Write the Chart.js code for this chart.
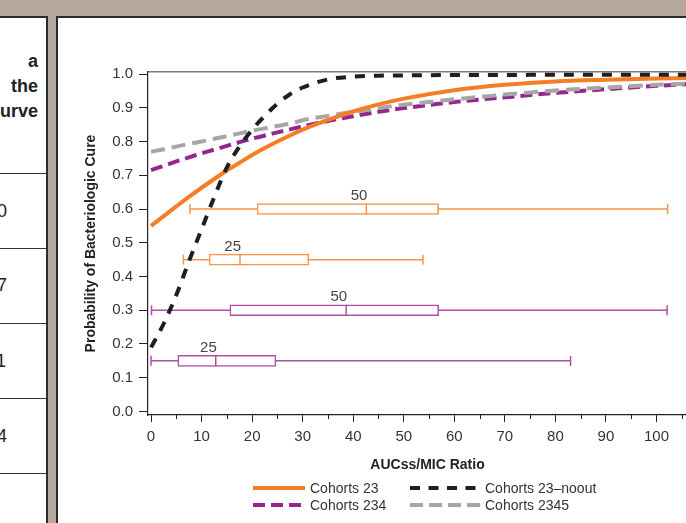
<!DOCTYPE html>
<html>
<head>
<meta charset="utf-8">
<script src="https://cdn.jsdelivr.net/npm/chart.js@4.4.1/dist/chart.umd.min.js"></script>
<style>
html, body { margin: 0; padding: 0; width: 686px; height: 523px; overflow: hidden; background: #b4a79e; }
body { position: relative; font-family: 'Liberation Sans', Arial, sans-serif; }
#side { position: absolute; left: 0; top: 16px; width: 46px; height: 520px; background: #fff;
        border-top: 2px solid #2b2b2b; border-right: 2px solid #2b2b2b; overflow: hidden; }
#side .head { position: absolute; right: 8px; top: 31px; text-align: right; font: bold 18px 'Liberation Sans', Arial, sans-serif;
              line-height: 25px; color: #222; }
#side .rule { position: absolute; left: 0; width: 100%; border-top: 1.5px solid #333; }
#side .num { position: absolute; font: 18px 'Liberation Sans', Arial, sans-serif; line-height: 20px; color: #222; }
#panel { position: absolute; left: 56px; top: 16px; width: 680px; height: 520px; background: #fff;
         border-top: 2px solid #2b2b2b; border-left: 2px solid #2b2b2b; overflow: hidden; }
#chart { position: absolute; left: 0; top: 0; }
#legend { position: absolute; left: 195px; top: 461px; display: grid; grid-template-columns: 157px 220px; }
#legend .item { display: flex; align-items: center; height: 17px; font-size: 14px; color: #333; white-space: nowrap; }
#legend svg { margin-right: 5px; }
</style>
</head>
<body>
<div id="side">
  <div class="head">a<br>the<br>urve</div>
  <div class="rule" style="top:155px"></div>
  <div class="num" style="top:183px; left:-3px">0</div>
  <div class="rule" style="top:230px"></div>
  <div class="num" style="top:257px; left:-3px">7</div>
  <div class="rule" style="top:305px"></div>
  <div class="num" style="top:333px; left:-4px">1</div>
  <div class="rule" style="top:380px"></div>
  <div class="num" style="top:408px; left:-3px">4</div>
  <div class="rule" style="top:455px"></div>
</div>
<div id="panel">
  <canvas id="chart" width="667" height="462"></canvas>
  <div id="legend"></div>
</div>
<script>
const FONT = "'Liberation Sans', Arial, sans-serif";

const aucMic = [0, 2.5, 5, 7.5, 10, 12.5, 15, 17.5, 20, 22.5, 25, 27.5, 30, 35, 40, 45, 50, 60, 70, 80, 90, 100, 110];

// Wahrscheinlichkeit der bakteriologischen Heilung je Kohorte
const cohorts23      = [0.550, 0.579, 0.608, 0.636, 0.663, 0.689, 0.714, 0.737, 0.760, 0.781, 0.800, 0.818, 0.835, 0.864, 0.889, 0.910, 0.927, 0.952, 0.968, 0.978, 0.983, 0.987, 0.989];
const cohorts23noout = [0.190, 0.260, 0.345, 0.445, 0.540, 0.635, 0.723, 0.785, 0.835, 0.876, 0.912, 0.940, 0.960, 0.984, 0.992, 0.995, 0.996, 0.997, 0.997, 0.998, 0.998, 0.998, 0.998];
const cohorts234     = [0.715, 0.728, 0.741, 0.753, 0.765, 0.776, 0.787, 0.798, 0.808, 0.818, 0.827, 0.836, 0.845, 0.861, 0.875, 0.888, 0.899, 0.917, 0.931, 0.944, 0.955, 0.965, 0.973];
const cohorts2345    = [0.770, 0.777, 0.785, 0.793, 0.800, 0.808, 0.816, 0.824, 0.832, 0.839, 0.846, 0.853, 0.863, 0.876, 0.888, 0.899, 0.909, 0.925, 0.939, 0.951, 0.960, 0.968, 0.974];

const seriesNames = ['Cohorts 23', 'Cohorts 23\u2013noout', 'Cohorts 234', 'Cohorts 2345'];

// Boxplots (Verteilung AUCss/MIC)
const boxLabels  = ['50', '25', '50', '25'];
const boxY       = [0.60, 0.45, 0.30, 0.15];
const boxLow     = [7.7, 6.4, 0.1, 0.0];
const boxQ1      = [21.0, 11.5, 15.6, 5.3];
const boxMedian  = [42.6, 17.6, 38.6, 12.8];
const boxQ3      = [56.9, 31.2, 56.9, 24.7];
const boxHigh    = [102.2, 53.8, 102.1, 83.0];
const boxColors  = ['#f3954a', '#f3954a', '#b04fa5', '#b04fa5'];

const yTicks = { min: -0.0104, max: 1.006, step: 0.1 };
const xTicks = { min: -0.6, max: 110, step: 10 };

// Zeichenreihenfolge: kleinere Zahl liegt oben
const styles = [
  { color: '#f47d26', dash: [], legendDash: '', legendWidth: 52, order: 1 },
  { color: '#1f1f1f', dash: [10, 9], legendDash: '10 8.5', legendWidth: 70, order: 0 },
  { color: '#93278f', dash: [12, 6], legendDash: '12 6', legendWidth: 52, order: 3 },
  { color: '#a8a5a4', dash: [14, 7], legendDash: '13 6', legendWidth: 70, order: 2 }
];
const curves = [cohorts23, cohorts23noout, cohorts234, cohorts2345];

const toPoints = arr => aucMic.map((x, i) => ({ x: x, y: arr[i] }));

const datasets = [];
curves.forEach((c, i) => {
  datasets.push({
    type: 'scatter',
    label: seriesNames[i],
    data: toPoints(c),
    showLine: true,
    borderColor: styles[i].color,
    borderWidth: 4,
    borderDash: styles[i].dash,
    cubicInterpolationMode: 'monotone',
    pointRadius: 0,
    order: styles[i].order
  });
});

// Median-Striche
datasets.push({
  type: 'scatter',
  data: boxY.map((y, i) => ({ x: boxMedian[i], y: y })),
  pointStyle: 'line',
  rotation: 90,
  pointRadius: 5.5,
  pointBorderWidth: 1.5,
  pointBorderColor: boxColors,
  order: 4
});

// Boxen (Q1..Q3)
datasets.push({
  type: 'bar',
  indexAxis: 'y',
  data: boxY.map((y, i) => ({ x: [boxQ1[i], boxQ3[i]], y: y })),
  backgroundColor: '#ffffff',
  borderColor: boxColors,
  borderWidth: 1.5,
  borderSkipped: false,
  barThickness: 11,
  order: 5
});

// Whisker
boxY.forEach((y, i) => {
  datasets.push({
    type: 'scatter',
    data: [{ x: boxLow[i], y: y }, { x: boxHigh[i], y: y }],
    showLine: true,
    borderColor: boxColors[i],
    borderWidth: 1.5,
    pointStyle: 'line',
    rotation: 90,
    pointRadius: 5,
    pointBorderWidth: 1.5,
    pointBorderColor: boxColors[i],
    order: 6
  });
});

const boxLabelPlugin = {
  id: 'boxLabels',
  afterDatasetsDraw(chart) {
    const { ctx, scales: { x, y } } = chart;
    ctx.save();
    ctx.font = '15px ' + FONT;
    ctx.fillStyle = '#444';
    ctx.textAlign = 'right';
    ctx.textBaseline = 'alphabetic';
    boxLabels.forEach((t, i) => {
      ctx.fillText(t, x.getPixelForValue(boxMedian[i]) + 1, y.getPixelForValue(boxY[i]) - 9);
    });
    ctx.restore();
  }
};

// kurze Zwischenstriche auf der x-Achse
const minorTickPlugin = {
  id: 'minorTicks',
  afterDraw(chart) {
    const { ctx } = chart;
    const xs = chart.scales.x;
    ctx.save();
    ctx.strokeStyle = '#222';
    ctx.lineWidth = 1;
    ctx.beginPath();
    for (let i = 0; i < xs.ticks.length - 1; i++) {
      const v = (xs.ticks[i].value + xs.ticks[i + 1].value) / 2;
      const px = Math.round(xs.getPixelForValue(v)) + 0.5;
      ctx.moveTo(px, xs.top);
      ctx.lineTo(px, xs.top + 4);
    }
    ctx.stroke();
    ctx.restore();
  }
};

new Chart(document.getElementById('chart'), {
  type: 'scatter',
  data: { datasets: datasets },
  plugins: [boxLabelPlugin, minorTickPlugin],
  options: {
    responsive: false,
    animation: false,
    devicePixelRatio: 1,
    events: [],
    layout: { autoPadding: false, padding: { top: 54, left: 0, right: 12.5, bottom: 0 } },
    plugins: { legend: { display: false }, tooltip: { enabled: false } },
    scales: {
      x: {
        type: 'linear',
        position: 'bottom',
        offset: false,
        min: xTicks.min,
        max: xTicks.max,
        afterFit: s => { s.height = 65; },
        ticks: {
          stepSize: xTicks.step,
          includeBounds: false,
          padding: 6,
          color: '#333',
          font: { family: FONT, size: 15 },
          maxRotation: 0,
          autoSkip: false
        },
        grid: { offset: false, drawOnChartArea: false, drawTicks: true, tickLength: 7, tickColor: '#222' },
        border: { display: true, color: '#222', width: 1.2 },
        title: { display: true, text: 'AUCss/MIC Ratio', color: '#222',
                 font: { family: FONT, size: 14, weight: 'bold' }, padding: { top: 0, bottom: 6 } }
      },
      x2: {
        type: 'linear',
        position: 'top',
        display: true,
        afterFit: s => { s.height = 0; },
        ticks: { display: false },
        grid: { display: false, drawTicks: false },
        border: { display: true, color: '#7a7a7a', width: 1.5 }
      },
      y: {
        type: 'linear',
        offset: false,
        min: yTicks.min,
        max: yTicks.max,
        afterFit: s => { s.width = 90; },
        ticks: {
          stepSize: yTicks.step,
          includeBounds: false,
          padding: 6,
          color: '#333',
          font: { family: FONT, size: 15 },
          callback: v => v.toFixed(1)
        },
        grid: { offset: false, drawOnChartArea: false, drawTicks: true, tickLength: 9, tickColor: '#222' },
        border: { display: true, color: '#222', width: 1.2 },
        title: { display: true, text: 'Probability of Bacteriologic Cure', color: '#222',
                 font: { family: FONT, size: 14, weight: 'bold' }, padding: { top: 25, bottom: 0 } }
      }
    }
  }
});

// Legende (zwei Spalten, zwei Zeilen)
const legendEl = document.getElementById('legend');
[0, 1, 2, 3].forEach(i => {
  const st = styles[i];
  const item = document.createElement('div');
  item.className = 'item';
  const w = st.legendWidth;
  item.innerHTML =
    '<svg width="' + w + '" height="8"><line x1="0" y1="4" x2="' + w + '" y2="4" stroke="' + st.color +
    '" stroke-width="4"' + (st.legendDash ? ' stroke-dasharray="' + st.legendDash + '"' : '') + '/></svg>' +
    '<span>' + seriesNames[i] + '</span>';
  legendEl.appendChild(item);
});
</script>
</body>
</html>
